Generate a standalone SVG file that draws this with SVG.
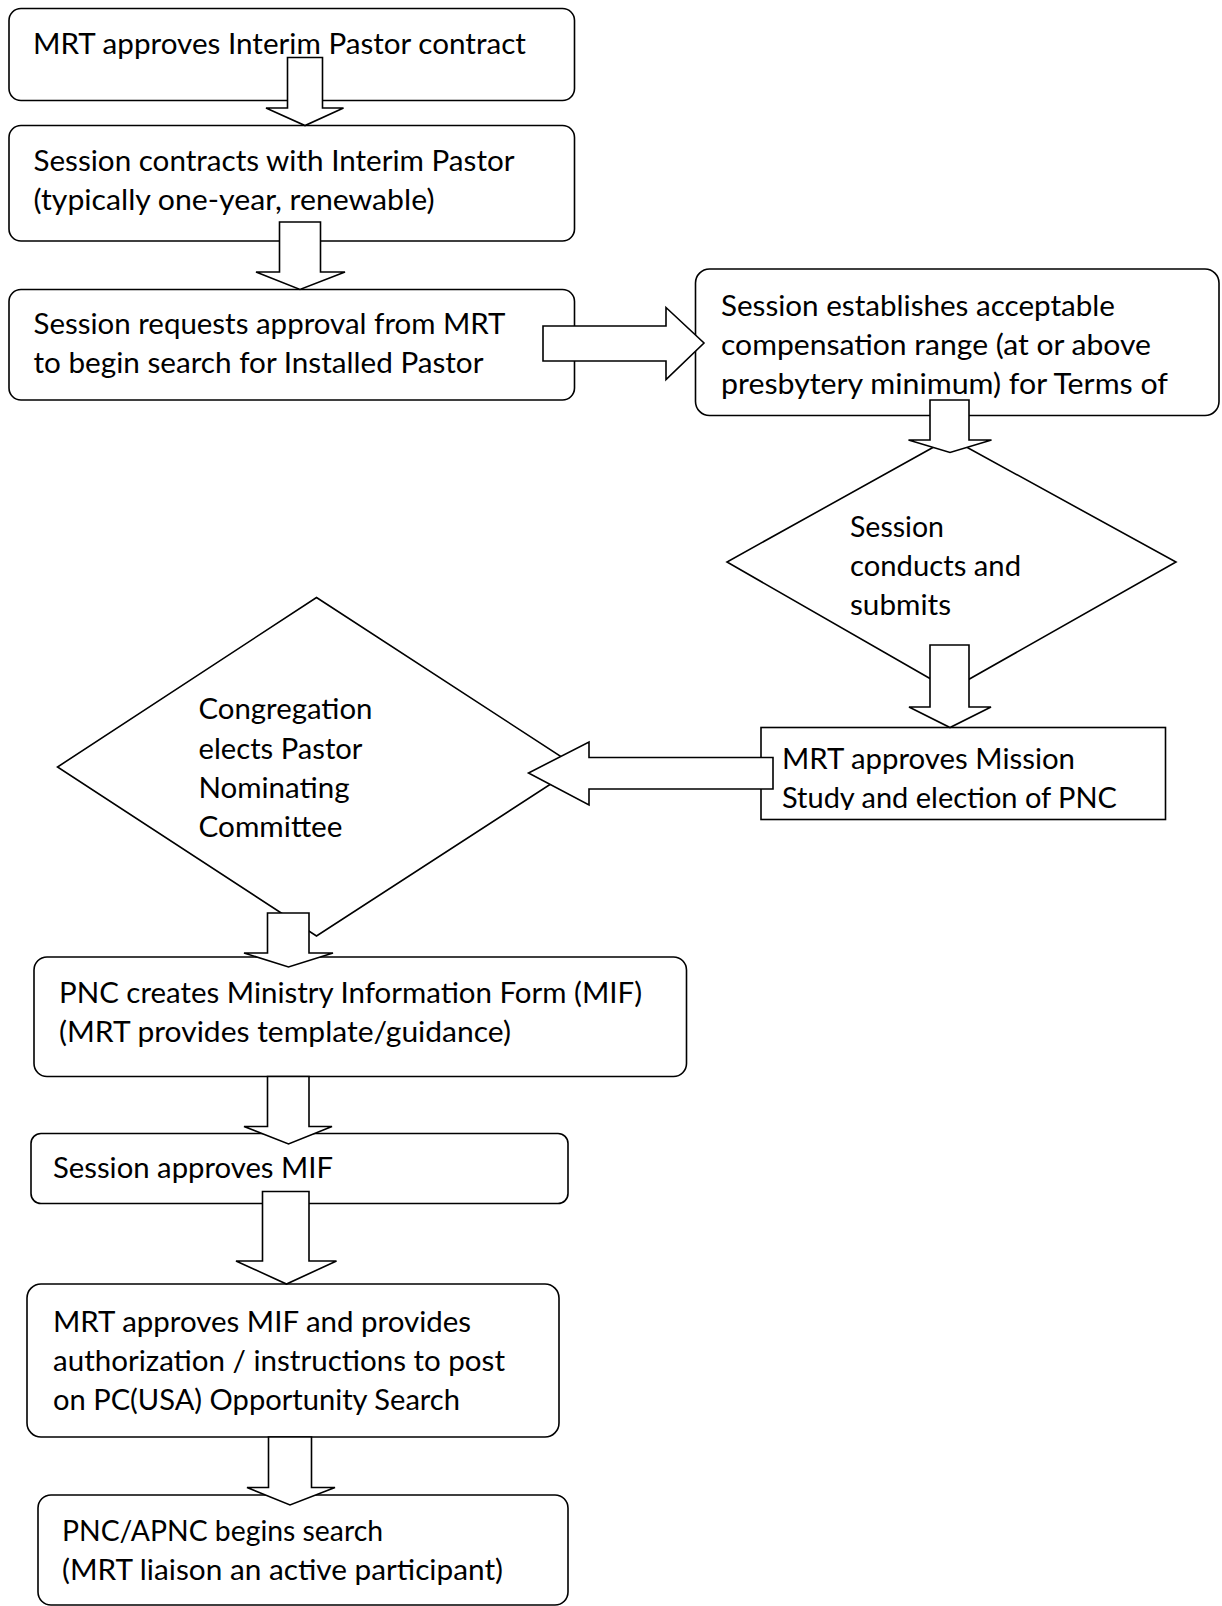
<svg xmlns="http://www.w3.org/2000/svg" width="1222" height="1606" viewBox="0 0 1222 1606">
<style>
.box{fill:#fff;stroke:#000;stroke-width:1.6}
.arr{fill:#fff;stroke:#000;stroke-width:1.6;stroke-linejoin:miter}
text{font-family:Lato,"Open Sans","Liberation Sans",sans-serif;font-size:28px;fill:#000}
</style>
<defs>
<clipPath id="clipB5"><rect x="761" y="727" width="405" height="83"/></clipPath>
</defs>
<rect width="1222" height="1606" fill="#fff"/>

<g id="n1">
<rect class="box" x="9" y="8.5" width="565.5" height="92" rx="12"/>
<text x="33" y="53.5" textLength="493" lengthAdjust="spacingAndGlyphs">MRT approves Interim Pastor contract</text>
</g>
<g id="n2">
<rect class="box" x="9" y="125.5" width="565.5" height="115.5" rx="12"/>
<text x="33.5" y="170.5" textLength="481" lengthAdjust="spacingAndGlyphs">Session contracts with Interim Pastor</text>
<text x="33.5" y="209.5" textLength="401" lengthAdjust="spacingAndGlyphs">(typically one-year, renewable)</text>
</g>
<g id="n3">
<rect class="box" x="9" y="289.5" width="565.5" height="110.5" rx="12"/>
<text x="33.5" y="333.5" textLength="472" lengthAdjust="spacingAndGlyphs">Session requests approval from MRT</text>
<text x="33.5" y="372.5" textLength="450" lengthAdjust="spacingAndGlyphs">to begin search for Installed Pastor</text>
</g>
<g id="n4">
<rect class="box" x="695.5" y="269" width="523.5" height="146.5" rx="14"/>
<text x="721" y="315.5" textLength="394" lengthAdjust="spacingAndGlyphs">Session establishes acceptable</text>
<text x="721" y="354.5" textLength="430" lengthAdjust="spacingAndGlyphs">compensation range (at or above</text>
<text x="721" y="393.5" textLength="447" lengthAdjust="spacingAndGlyphs">presbytery minimum) for Terms of</text>
</g>
<g id="n5">
<polygon class="box" points="950,438 1176,562 950,690 727,562"/>
<text x="850" y="536.5" textLength="94" lengthAdjust="spacingAndGlyphs">Session</text>
<text x="850" y="575.5" textLength="171" lengthAdjust="spacingAndGlyphs">conducts and</text>
<text x="850" y="614.5" textLength="101" lengthAdjust="spacingAndGlyphs">submits</text>
</g>
<g id="n6">
<rect class="box" x="761" y="727.5" width="404.5" height="92"/>
<g clip-path="url(#clipB5)">
<text x="782" y="769" textLength="293" lengthAdjust="spacingAndGlyphs">MRT approves Mission</text>
<text x="782" y="808" textLength="335" lengthAdjust="spacingAndGlyphs">Study and election of PNC</text>
</g>
</g>
<g id="n7">
<polygon class="box" points="316.5,597.5 577,767 316.5,936 57.5,767"/>
<text x="198.5" y="718.5" textLength="174" lengthAdjust="spacingAndGlyphs">Congregation</text>
<text x="198.5" y="758.5" textLength="164" lengthAdjust="spacingAndGlyphs">elects Pastor</text>
<text x="198.5" y="797.5" textLength="151" lengthAdjust="spacingAndGlyphs">Nominating</text>
<text x="198.5" y="836.5" textLength="144" lengthAdjust="spacingAndGlyphs">Committee</text>
</g>
<g id="n8">
<rect class="box" x="34" y="957" width="652.5" height="119.5" rx="13"/>
<text x="59" y="1002.5" textLength="583" lengthAdjust="spacingAndGlyphs">PNC creates Ministry Information Form (MIF)</text>
<text x="59" y="1041.5" textLength="452" lengthAdjust="spacingAndGlyphs">(MRT provides template/guidance)</text>
</g>
<g id="n9">
<rect class="box" x="31" y="1133.5" width="537" height="70" rx="10"/>
<text x="53" y="1177.5" textLength="280" lengthAdjust="spacingAndGlyphs">Session approves MIF</text>
</g>
<g id="n10">
<rect class="box" x="27" y="1284" width="532" height="153" rx="14"/>
<text x="53" y="1331.5" textLength="418" lengthAdjust="spacingAndGlyphs">MRT approves MIF and provides</text>
<text x="53" y="1370.5" textLength="452" lengthAdjust="spacingAndGlyphs">authorization / instructions to post</text>
<text x="53" y="1409.5" textLength="407" lengthAdjust="spacingAndGlyphs">on PC(USA) Opportunity Search</text>
</g>
<g id="n11">
<rect class="box" x="38" y="1495" width="530" height="110" rx="13"/>
<text x="62" y="1540.5" textLength="321" lengthAdjust="spacingAndGlyphs">PNC/APNC begins search</text>
<text x="62" y="1579.5" textLength="441" lengthAdjust="spacingAndGlyphs">(MRT liaison an active participant)</text>
</g>

<g id="connectors">
<polygon class="arr" points="287.5,57.5 322.5,57.5 322.5,108 343.5,108 305,125.5 266,108 287.5,108"/>
<polygon class="arr" points="279.5,222 320.5,222 320.5,272 345,272 300,289.5 256,272 279.5,272"/>
<polygon class="arr" points="543,326 666,326 666,307.5 704,343 666,379.5 666,361 543,361"/>
<polygon class="arr" points="930,400 969,400 969,440 991.5,440 950,452.5 908.5,440 930,440"/>
<polygon class="arr" points="930,645 969,645 969,707 991,707 950,727.5 909,707 930,707"/>
<polygon class="arr" points="773,757.5 773,789 589,789 589,805 528.5,773 589,742 589,757.5"/>
<polygon class="arr" points="267.5,913 309,913 309,953 333,953 288.5,967 244,953 267.5,953"/>
<polygon class="arr" points="267.5,1076.5 309,1076.5 309,1126.5 332,1126.5 288.5,1144 244,1126.5 267.5,1126.5"/>
<polygon class="arr" points="262.5,1191.5 309,1191.5 309,1261 336.5,1261 286.5,1284 236,1261 262.5,1261"/>
<polygon class="arr" points="268.5,1437 311.5,1437 311.5,1487.5 335,1487.5 290,1505 247,1487.5 268.5,1487.5"/>
</g>
</svg>
